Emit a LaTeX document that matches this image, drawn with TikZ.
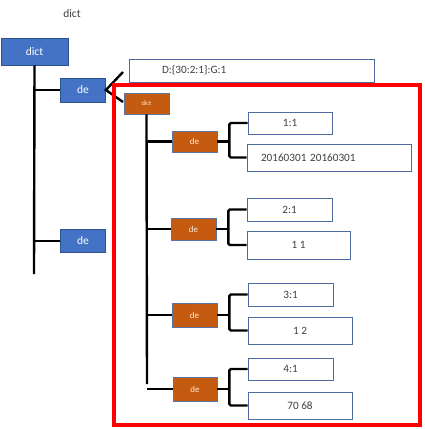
\documentclass[tikz,border=0pt]{standalone}
\usepackage{fontspec}
\setmainfont{Carlito}
\usepackage{tikz}
\usetikzlibrary{calc, positioning}

\definecolor{boxblue}{HTML}{4472C4}
\definecolor{edgeblue}{HTML}{2F528F}
\definecolor{boxorange}{HTML}{C55A11}
\definecolor{textgray}{HTML}{404040}

\begin{document}
\begin{tikzpicture}[x=1pt, y=-1pt,
  bluebox/.style={draw=edgeblue, fill=boxblue, line width=0.8pt, inner sep=0pt,
    text=white, font=\fontsize{11.5}{13}\selectfont},
  orangebox/.style={draw=edgeblue!80, fill=boxorange, line width=0.8pt, inner sep=0pt,
    text=orange!15, font=\fontsize{9}{10}\selectfont},
  valbox/.style={draw=edgeblue!85, fill=white, line width=0.8pt, inner sep=0pt,
    text=textgray, font=\fontsize{11.2}{13}\selectfont},
  conn/.style={black, line width=2.4pt, rounded corners=1.5pt}]
\useasboundingbox (0,0) rectangle (424,429);

% outer level
\node[text=textgray, font=\fontsize{11.5}{13}\selectfont] (title) at (72,14) {dict};
\node[bluebox, minimum width=67pt, minimum height=27pt] (dictb) at (34.5,51.5) {dict};
\node[bluebox, minimum width=45pt, minimum height=24pt] (deb1) at (83,90) {de};
\node[bluebox, minimum width=45pt, minimum height=23pt] (deb2) at (83,241) {de};
\node[valbox, minimum height=23pt, text width=179pt, inner xsep=33pt, align=left] (dval) at (251.5,70.5) {D:\{30:2:1\}:G:1};
\coordinate (trunkend) at (34,274);
\coordinate (tipup) at (123,72);
\coordinate (tipdown) at (123,102);

\draw[conn] (dictb.south) -- (trunkend);
\draw[conn] (deb1.west) -- (deb1.west -| dictb.south);
\draw[conn] (deb2.west) -- (deb2.west -| dictb.south);
\draw[conn, rounded corners=0pt] (tipup) -- (deb1.east) -- (tipdown);

% highlighted inner dict
\draw[red, line width=4pt] (114,85) rectangle (420,425);
\node[orangebox, minimum width=45pt, minimum height=21pt, font=\fontsize{6.5}{7}\selectfont] (odict) at (146.5,103.5) {dict};
\node[orangebox, minimum width=45pt, minimum height=21pt] (ode1) at (194.5,141.5) {de};
\node[orangebox, minimum width=45pt, minimum height=22pt] (ode2) at (193.5,229) {de};
\node[orangebox, minimum width=45pt, minimum height=24pt] (ode3) at (194.5,315) {de};
\node[orangebox, minimum width=44pt, minimum height=24pt] (ode4) at (195,389) {de};
\coordinate (otrunkend) at (147,384);

\draw[conn] (odict.south) -- (otrunkend);
\draw[conn] (ode1.west) -- (ode1.west -| odict.south);
\draw[conn] (ode2.west) -- (ode2.west -| odict.south);
\draw[conn] (ode3.west) -- (ode3.west -| odict.south);
\draw[conn] (ode4.west) -- (ode4.west -| odict.south);

% key / value boxes
\node[valbox, minimum width=84pt, minimum height=22pt] (k1) at (290,123) {1:1};
\node[valbox, minimum height=27pt, text width=136pt, inner xsep=14pt, align=left] (v1) at (329,157.5) {20160301 20160301};
\node[valbox, minimum width=85pt, minimum height=23pt] (k2) at (289.5,209.5) {2:1};
\node[valbox, minimum width=103pt, minimum height=28pt] (v2) at (298.5,245) {1 1};
\node[valbox, minimum width=85pt, minimum height=23pt] (k3) at (290.5,294.5) {3:1};
\node[valbox, minimum width=104pt, minimum height=27pt] (v3) at (300,330.5) {1 2};
\node[valbox, minimum width=85pt, minimum height=22pt] (k4) at (290.5,369) {4:1};
\node[valbox, minimum width=104pt, minimum height=27pt] (v4) at (300,405.5) {70 68};

% brackets
\draw[conn] (ode1.east) -- ++(12,0) coordinate (b1);
\draw[conn] (k1.west) -| (b1) |- (v1.west);
\draw[conn] (ode2.east) -- ++(12,0) coordinate (b2);
\draw[conn] (k2.west) -| (b2) |- (v2.west);
\draw[conn] (ode3.east) -- ++(12,0) coordinate (b3);
\draw[conn] (k3.west) -| (b3) |- (v3.west);
\draw[conn] (ode4.east) -- ++(12,0) coordinate (b4);
\draw[conn] (k4.west) -| (b4) |- (v4.west);
\end{tikzpicture}
\end{document}
